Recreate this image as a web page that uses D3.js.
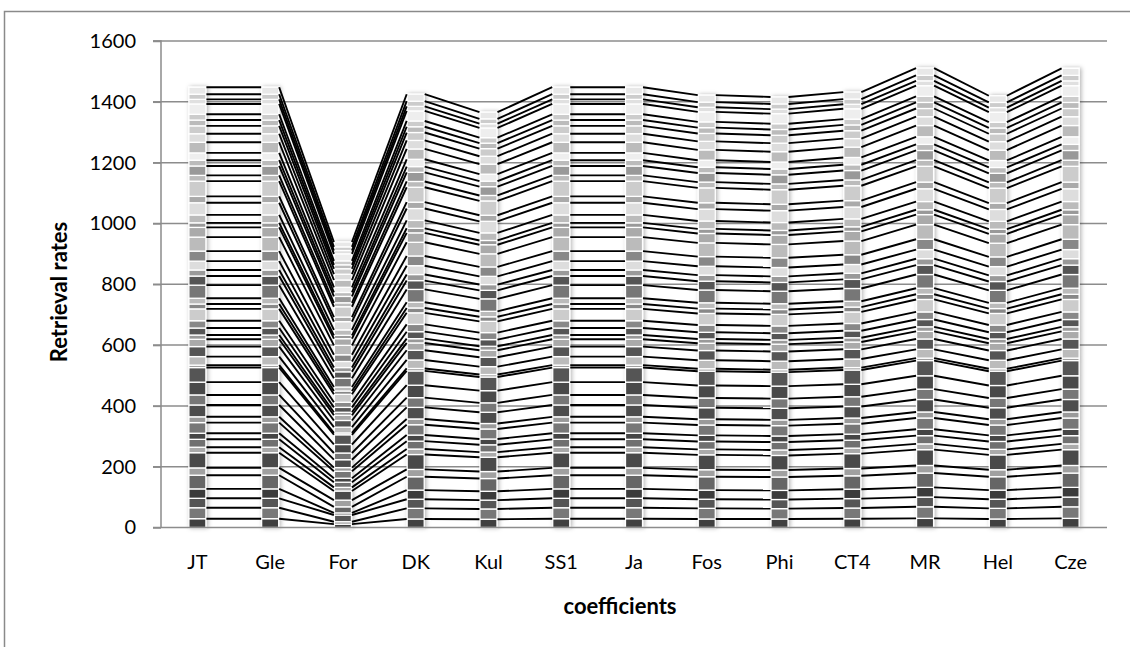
<!DOCTYPE html>
<html><head><meta charset="utf-8">
<script src="https://cdn.jsdelivr.net/npm/d3@7"></script>
<style>
html,body{margin:0;padding:0;background:#fff;}
text{font-family:Lato,"Open Sans",sans-serif;fill:#000;}
</style></head>
<body><svg id="chart" width="1130" height="647"></svg>
<script>
// ---- data ----
const categories = ["JT","Gle","For","DK","Kul","SS1","Ja","Fos","Phi","CT4","MR","Hel","Cze"];
const yTicks = [0,200,400,600,800,1000,1200,1400,1600];
// values of each of the 51 stacked series, bottom to top, per category
const JT  = [29,36,31,31,45,24,50,18,26,20,35,19,39,33,42,48,8,28,33,24,14,23,24,39,16,19,43,30,20,29,33,46,32,15,26,40,21,50,19,31,19,24,35,28,26,19,19,34,15,17,23];
const Gle = [29,36,31,31,45,24,50,18,26,20,35,19,39,33,42,48,8,28,33,24,14,23,24,39,16,19,43,30,20,29,33,46,32,15,26,40,21,50,19,31,19,24,35,28,26,19,19,34,15,17,23];
const For = [11,8,22,7,20,22,30,12,17,13,23,12,26,22,28,32,6,19,22,17,10,16,17,26,11,13,29,21,14,20,22,31,22,11,18,27,15,34,13,21,13,17,24,19,18,13,13,23,11,12,16];
const DK  = [28,35,30,30,44,24,49,18,26,20,34,19,38,32,41,47,8,28,32,24,14,23,24,38,16,19,42,29,20,29,32,45,31,15,26,39,21,49,19,30,19,24,34,28,26,19,19,33,15,17,23];
const Kul = [27,34,29,29,42,23,47,17,24,19,33,18,37,31,40,45,8,26,31,23,13,22,23,37,15,18,41,28,19,27,31,43,30,14,25,38,20,47,18,29,18,23,33,26,25,18,18,32,14,16,22];
const SS1 = [29,36,31,31,45,24,50,18,26,20,35,19,39,33,42,48,8,28,33,24,14,23,24,39,16,19,43,30,20,29,33,46,32,15,26,40,21,50,19,31,19,24,35,28,26,19,19,34,15,17,23];
const Ja  = [29,36,31,31,45,24,50,18,26,20,35,19,39,33,42,48,8,28,33,24,14,23,24,39,16,19,43,30,20,29,33,46,32,15,26,40,21,50,19,31,19,24,35,28,26,19,19,34,15,17,23];
const Fos = [28,35,30,30,44,23,49,18,26,20,34,19,38,32,41,47,8,28,32,24,14,22,24,38,16,19,42,29,20,29,32,45,31,15,26,39,21,49,19,30,19,23,34,28,26,19,19,33,15,17,23];
const Phi = [28,34,30,30,44,23,48,18,26,20,34,19,38,32,41,46,8,28,32,24,14,22,24,38,16,19,41,29,20,29,32,44,31,15,26,39,21,48,19,30,19,23,34,28,26,19,19,33,15,17,23];
const CT4 = [29,35,31,31,44,24,49,18,26,20,34,19,38,32,41,47,8,28,32,24,14,23,24,38,16,19,42,30,20,29,32,45,32,15,26,39,21,49,19,31,19,24,34,28,26,19,19,34,15,17,23];
const MR  = [30,38,32,32,47,25,52,19,27,21,37,20,41,34,44,50,8,29,34,25,15,24,25,41,17,20,45,31,21,30,34,48,33,16,27,42,22,52,20,32,20,25,37,29,27,20,20,35,16,18,24];
const Hel = [28,35,30,30,44,23,49,18,26,20,34,19,38,32,41,47,8,28,32,24,14,22,24,38,16,19,41,29,20,29,32,45,31,15,26,39,21,49,19,30,19,23,34,28,26,19,19,33,15,17,22];
const Cze = [30,38,32,32,47,25,52,19,27,21,37,20,41,34,44,50,8,29,34,25,15,24,25,41,17,20,45,31,21,30,34,48,33,16,27,42,22,52,20,32,20,25,37,29,27,20,20,35,16,18,23];
const columnValues = [JT,Gle,For,DK,Kul,SS1,Ja,Fos,Phi,CT4,MR,Hel,Cze];
const seriesColors = ["#404040","#787878","#555555","#3a3a3a","#666666","#a0a0a0","#4a4a4a","#aaaaaa","#707070","#444444",
  "#777777","#9a9a9a","#4d4d4d","#777777","#4a4a4a","#555555","#999999","#bbbbbb","#555555","#aaaaaa",
  "#999999","#555555","#888888","#cccccc","#888888","#bbbbbb","#777777","#555555","#999999","#dddddd",
  "#888888","#bbbbbb","#aaaaaa","#999999","#bbbbbb","#dddddd","#aaaaaa","#cccccc","#bbbbbb","#999999",
  "#bbbbbb","#eeeeee","#bbbbbb","#dddddd","#cccccc","#bbbbbb","#cccccc","#eeeeee","#e0e0e0","#cccccc","#e8e8e8"];

// ---- layout ----
const svg = d3.select("#chart");
const M = {left:161, right:1107, top:41, bottom:527.5};
const nSeries = JT.length;
const keys = d3.range(nSeries).map(i=>"s"+i);
const table = categories.map((c,ci)=>{
  const row = {cat:c};
  columnValues[ci].forEach((v,i)=>row["s"+i]=v);
  return row;
});
const stacked = d3.stack().keys(keys)(table);

const x = d3.scaleBand().domain(categories).range([M.left, M.right]).paddingInner(0.766).paddingOuter(0.383);
const y = d3.scaleLinear().domain([0,1600]).range([M.bottom, M.top]);

const defs = svg.append("defs");
const f = defs.append("filter").attr("id","sh").attr("x","-60%").attr("width","220%").attr("y","-5%").attr("height","110%");
f.append("feDropShadow").attr("dx",1.5).attr("dy",0).attr("stdDeviation",2).attr("flood-color","#000").attr("flood-opacity",0.3);

// outer chart border
svg.append("path").attr("d","M4.5,647 V11.5 H1130").attr("fill","none").attr("stroke","#8a8a8a").attr("stroke-width",1.5);

// gridlines
svg.append("g").selectAll("line").data(yTicks.filter(t=>t>0)).join("line")
  .attr("x1",M.left-8).attr("x2",M.right).attr("y1",d=>y(d)).attr("y2",d=>y(d))
  .attr("stroke","#8c8c8c").attr("stroke-width",1.5);

// y axis
const yAxis = svg.append("g").attr("transform",`translate(${M.left},0)`)
  .call(d3.axisLeft(y).tickValues(yTicks).tickSize(8).tickPadding(17).tickFormat(d3.format("d")));
yAxis.select(".domain").attr("stroke","#8c8c8c").attr("stroke-width",1.5).attr("d",`M-8,${y(1600)}H0V${y(0)}`);
yAxis.selectAll(".tick line").attr("stroke","#8c8c8c").attr("stroke-width",1.5);
yAxis.selectAll(".tick text").style("font-size","20px").style("font-family","Lato,sans-serif").attr("fill","#000");

// columns
const bw = x.bandwidth();
const colG = svg.append("g");
categories.forEach((c,ci)=>{
  const g = colG.append("g").attr("filter","url(#sh)");
  stacked.forEach((s,si)=>{
    const d = s[ci];
    g.append("rect").attr("x",x(c)).attr("width",bw)
      .attr("y",y(d[1])).attr("height",Math.max(0,y(d[0])-y(d[1])))
      .attr("fill",seriesColors[si]).attr("stroke","#fff").attr("stroke-width",1.3);
  });
});

// series lines
const lineG = svg.append("g");
stacked.forEach((s,si)=>{
  for(let ci=0; ci<categories.length-1; ci++){
    lineG.append("line")
      .attr("x1",x(categories[ci])+bw+0.5).attr("y1",y(s[ci][1]))
      .attr("x2",x(categories[ci+1])-0.5).attr("y2",y(s[ci+1][1]))
      .attr("stroke","#000").attr("stroke-width",1.9);
  }
});

// x axis
svg.append("line").attr("x1",M.left-8).attr("x2",M.right).attr("y1",M.bottom).attr("y2",M.bottom)
  .attr("stroke","#8c8c8c").attr("stroke-width",1.5);
const xAxis = svg.append("g").attr("transform",`translate(0,${M.bottom})`)
  .call(d3.axisBottom(x).tickSize(0).tickPadding(27));
xAxis.select(".domain").remove();
xAxis.selectAll(".tick text").style("font-size","20px").style("font-family","Lato,sans-serif").attr("fill","#000");

// titles
svg.append("text").attr("x",620).attr("y",614).attr("text-anchor","middle")
  .style("font-size","22px").style("font-weight","bold").text("coefficients");
svg.append("text").attr("transform","translate(67,292) rotate(-90)").attr("text-anchor","middle")
  .style("font-size","22px").style("font-weight","bold").text("Retrieval rates");
</script></body></html>
